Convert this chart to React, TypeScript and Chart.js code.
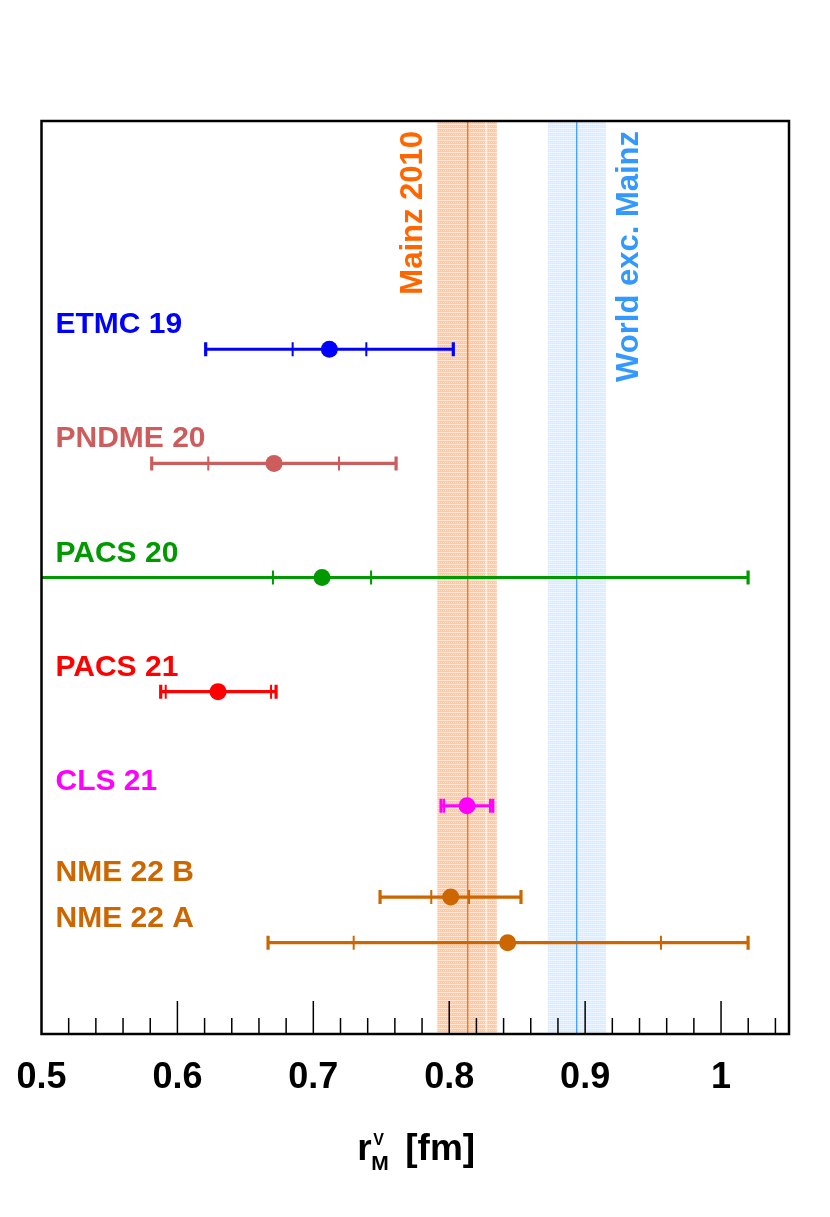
import { Chart, registerables, type Plugin } from 'chart.js'
import { useEffect, useRef } from 'react'

Chart.register(...registerables)

const FONT = "'Liberation Sans', Arial, sans-serif"

// lattice results, one row each (top to bottom)
const experiments = ['ETMC 19', 'PNDME 20', 'PACS 20', 'PACS 21', 'CLS 21', 'NME 22 B', 'NME 22 A']
const colors = ['#0000ff', '#cd5c5c', '#009900', '#ff0000', '#ff00ff', '#cc6600', '#cc6600']
const rowPositions = [6, 5, 4, 3, 2, 1.2, 0.8]
const centralValues = [0.7118, 0.6711, 0.7064, 0.6299, 0.8131, 0.8011, 0.843]
const innerLow = [0.6848, 0.6227, 0.6703, 0.5914, 0.7962, 0.7868, 0.7297]
const innerHigh = [0.739, 0.7189, 0.7425, 0.6689, 0.83, 0.8146, 0.9558]
const outerLow = [0.6208, 0.5811, 0.42, 0.5877, 0.794, 0.7491, 0.6667]
const outerHigh = [0.803, 0.7609, 1.0199, 0.6726, 0.832, 0.8528, 1.0199]

// experimental bands
const bandNames = ['Mainz 2010', 'World exc. Mainz']
const bandCentral = [0.8136, 0.8938]
const bandLow = [0.7912, 0.8725]
const bandInnerHigh = [0.8271, 0.9154]
const bandHigh = [0.835, 0.9154]
const bandColors = ['#ff6600', '#3399ff']
const bandFills = ['#fcc9a4', '#dcecfc']

const tickValues = [0.5, 0.6, 0.7, 0.8, 0.9, 1.0]
const tickLabels = ['0.5', '0.6', '0.7', '0.8', '0.9', '1']

function makePattern(ctx: CanvasRenderingContext2D, base: string) {
  const tile = document.createElement('canvas')
  tile.width = 4
  tile.height = 4
  const t = tile.getContext('2d')!
  t.fillStyle = base
  t.fillRect(0, 0, 4, 4)
  t.fillStyle = 'rgba(255,255,255,0.55)'
  t.fillRect(0, 0, 4, 1)
  t.fillRect(1, 2, 1, 1)
  t.fillRect(3, 2, 1, 1)
  return ctx.createPattern(tile, 'repeat')
}

const decorations: Plugin<'scatter'> = {
  id: 'decorations',
  beforeDatasetsDraw(chart) {
    const { ctx, chartArea: area } = chart
    const xs = chart.scales.x
    const ys = chart.scales.y
    ctx.save()
    ctx.beginPath()
    ctx.rect(area.left, area.top, area.right - area.left, area.bottom - area.top)
    ctx.clip()

    bandNames.forEach((name, i) => {
      const lo = xs.getPixelForValue(bandLow[i])
      const hi = xs.getPixelForValue(bandHigh[i])
      const mid = xs.getPixelForValue(bandCentral[i])
      const inner = xs.getPixelForValue(bandInnerHigh[i])
      ctx.fillStyle = makePattern(ctx, bandFills[i]) ?? bandFills[i]
      ctx.fillRect(lo, area.top, hi - lo, area.bottom - area.top)
      if (inner < hi - 1) {
        ctx.strokeStyle = 'rgba(255,255,255,0.9)'
        ctx.lineWidth = 1.2
        ctx.beginPath()
        ctx.moveTo(inner, area.top)
        ctx.lineTo(inner, area.bottom)
        ctx.stroke()
      }
      ctx.strokeStyle = bandColors[i]
      ctx.lineWidth = 1.2
      ctx.beginPath()
      ctx.moveTo(mid, area.top)
      ctx.lineTo(mid, area.bottom)
      ctx.stroke()

      // rotated band label
      ctx.save()
      const bx = i === 0 ? lo - 15 : hi + 32
      ctx.translate(bx, area.top + 10)
      ctx.rotate(-Math.PI / 2)
      ctx.font = `bold 31px ${FONT}`
      ctx.fillStyle = bandColors[i]
      ctx.textAlign = 'right'
      ctx.textBaseline = 'alphabetic'
      ctx.fillText(name, 0, 0)
      ctx.restore()
    })

    experiments.forEach((_, i) => {
      const y = ys.getPixelForValue(rowPositions[i])
      const x0 = xs.getPixelForValue(outerLow[i])
      const x1 = xs.getPixelForValue(outerHigh[i])
      ctx.strokeStyle = colors[i]
      ctx.lineWidth = 3.2
      ctx.beginPath()
      ctx.moveTo(x0, y)
      ctx.lineTo(x1, y)
      ctx.stroke()
      ctx.lineWidth = 3.2
      ;[x0, x1].forEach((x) => {
        ctx.beginPath()
        ctx.moveTo(x, y - 7)
        ctx.lineTo(x, y + 7)
        ctx.stroke()
      })
      ctx.lineWidth = 2
      ;[innerLow[i], innerHigh[i]].forEach((v) => {
        const x = xs.getPixelForValue(v)
        ctx.beginPath()
        ctx.moveTo(x, y - 7)
        ctx.lineTo(x, y + 7)
        ctx.stroke()
      })
    })
    ctx.restore()
  },
  afterDraw(chart) {
    const { ctx, chartArea: area } = chart
    const xs = chart.scales.x
    const ys = chart.scales.y
    ctx.save()

    // inward tick marks, every 0.02
    ctx.strokeStyle = '#000'
    ctx.lineWidth = 1.5
    for (let i = 1; i < 28; i++) {
      const x = xs.getPixelForValue(0.5 + 0.02 * i)
      const len = i % 5 === 0 ? 33 : 16
      ctx.beginPath()
      ctx.moveTo(x, area.bottom)
      ctx.lineTo(x, area.bottom - len)
      ctx.stroke()
    }

    // frame
    ctx.lineWidth = 2.5
    ctx.strokeRect(area.left, area.top, area.right - area.left, area.bottom - area.top)

    // row labels
    ctx.font = `bold 30px ${FONT}`
    ctx.textAlign = 'left'
    ctx.textBaseline = 'alphabetic'
    experiments.forEach((name, i) => {
      ctx.fillStyle = colors[i]
      ctx.fillText(name, area.left + 14, ys.getPixelForValue(rowPositions[i]) - 16)
    })

    // axis title  r^V_M [fm]
    const cx = (area.left + area.right) / 2
    const base = 1160
    ctx.fillStyle = '#000'
    ctx.font = `bold 37px ${FONT}`
    ctx.fillText('r', cx - 58, base)
    ctx.font = `bold 16px ${FONT}`
    ctx.fillText('V', cx - 42, base - 15)
    ctx.font = `bold 21px ${FONT}`
    ctx.fillText('M', cx - 44, base + 10)
    ctx.font = `bold 37px ${FONT}`
    ctx.fillText('[fm]', cx - 10, base)
    ctx.restore()
  },
}

export default function App() {
  const canvasRef = useRef<HTMLCanvasElement | null>(null)

  useEffect(() => {
    const canvas = canvasRef.current
    if (!canvas) {
      return
    }

    const chart = new Chart(canvas, {
      type: 'scatter',
      data: {
        datasets: [
          {
            data: experiments.map((_, i) => ({ x: centralValues[i], y: rowPositions[i] })),
            pointBackgroundColor: colors,
            pointBorderWidth: 0,
            pointRadius: 8.5,
            pointHoverRadius: 8.5,
          },
        ],
      },
      options: {
        animation: false,
        responsive: false,
        layout: {
          padding: { top: 121, left: 41.5, right: 41, bottom: 0 },
        },
        plugins: {
          legend: { display: false },
          tooltip: { enabled: false },
        },
        scales: {
          x: {
            type: 'linear',
            min: 0.5,
            max: 1.05,
            afterBuildTicks: (scale) => {
              scale.ticks = tickValues.map((value) => ({ value }))
            },
            afterFit: (scale) => {
              scale.height = 183
              scale.paddingLeft = 0
              scale.paddingRight = 0
            },
            grid: { display: false, drawTicks: false },
            border: { display: false },
            ticks: {
              autoSkip: false,
              maxRotation: 0,
              padding: 22,
              color: '#000',
              font: { family: FONT, size: 36, weight: 'bold' },
              callback: (_value, index) => tickLabels[index],
            },
          },
          y: {
            type: 'linear',
            min: 0,
            max: 8,
            display: false,
          },
        },
      },
      plugins: [decorations],
    })

    return () => {
      chart.destroy()
    }
  }, [])

  return (
    <div style={{ position: 'fixed', left: 0, top: 0, width: 830, height: 1217, background: '#fff' }}>
      <canvas ref={canvasRef} width={830} height={1217} />
    </div>
  )
}
